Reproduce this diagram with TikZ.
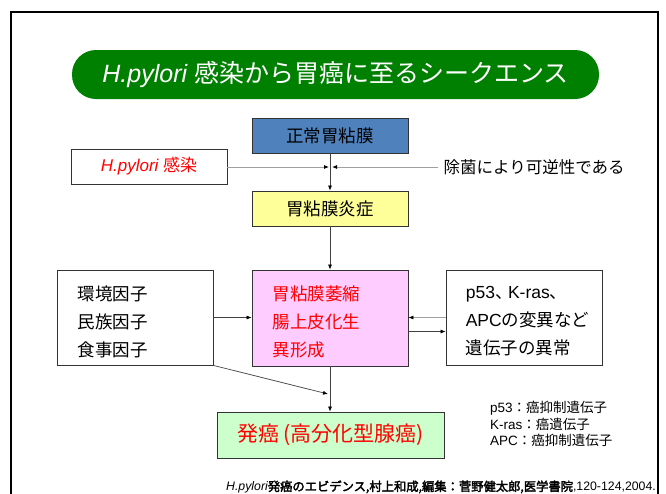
\documentclass[tikz,border=0pt]{standalone}
\usepackage{fontspec}
\setmainfont{Liberation Sans}
\newfontfamily\cjk[AutoFakeBold=2.5]{Noto Sans CJK JP}
\usetikzlibrary{arrows.meta,shadows}
\definecolor{pillgreen}{RGB}{0,128,0}
\definecolor{normblue}{RGB}{79,129,189}
\definecolor{inflyellow}{RGB}{255,255,153}
\definecolor{atropink}{RGB}{255,204,255}
\definecolor{cancergreen}{RGB}{204,255,204}
\definecolor{boxedge}{RGB}{51,51,51}
\definecolor{lightline}{RGB}{160,160,160}
\definecolor{darkline}{RGB}{64,64,64}
\newcommand{\tten}{\makebox[13pt][l]{\cjk 、}}
\begin{document}
\begin{tikzpicture}[x=1pt,y=-1pt,
  stagebox/.style={draw=boxedge,line width=0.8pt,minimum width=156pt,minimum height=35pt,inner sep=0pt,
    drop shadow={shadow xshift=1.2pt,shadow yshift=-1.2pt,fill=black!30}},
  boxtext/.style={font=\cjk\fontsize{17.5}{20}\selectfont},
  listtext/.style={anchor=west,align=left,inner sep=0pt},
  darkarrow/.style={draw=darkline,line width=0.7pt,-{Latex[length=5pt,width=4pt,color=black]}},
  lightarrow/.style={draw=lightline,line width=0.8pt,-{Latex[length=5pt,width=4pt,color=black]}}
]
\useasboundingbox (0,0) rectangle (666,493);
\fill[white] (0,0) rectangle (666,493);
\draw[line width=1.5pt] (11,496) -- (11,12) -- (658,12) -- (658,496);

\node[fill=pillgreen,rounded corners=24pt,minimum width=527pt,minimum height=49pt,text=white,
  font=\fontsize{25}{30}\selectfont] (title) at (335.5,74.5)
  {\itshape H.pylori\upshape{} {\cjk 感染から胃癌に至るシークエンス}};

\node[stagebox,fill=normblue,boxtext] (normal) at (330,135.5) {正常胃粘膜};
\node[stagebox,fill=white,text=red,font=\fontsize{17}{20}\selectfont] (hp) at (149,166.5)
  {\itshape H.pylori\upshape{} {\cjk 感染}};
\node[stagebox,fill=inflyellow,boxtext] (infl) at (330,208.5) {胃粘膜炎症};
\node[anchor=west,inner sep=5.5pt,font=\cjk\fontsize{16.5}{20}\selectfont] (erad) at (438,167) {除菌により可逆性である};

\coordinate (mL) at (329,167);
\coordinate (mR) at (332,167);
\draw[lightarrow] (hp.east |- mL) -- (mL);
\draw[lightarrow] (erad.west) -- (mR);
\draw[darkarrow] (normal.south) -- (infl.north);

\node[stagebox,fill=white,minimum height=95pt] (env) at (135,317.5) {};
\node[listtext,font=\cjk\fontsize{17.5}{28}\selectfont] (envt) at ([xshift=21pt,yshift=-4pt]env.west)
  {環境因子\\民族因子\\食事因子};
\node[stagebox,fill=atropink,minimum height=96pt] (atro) at (330,318) {};
\node[listtext,text=red,font=\cjk\fontsize{17.5}{28}\selectfont] (atrot) at ([xshift=21pt,yshift=-4pt]atro.west)
  {胃粘膜萎縮\\腸上皮化生\\異形成};
\node[stagebox,fill=white,minimum height=95pt] (gene) at (524,317.5) {};
\node[listtext,font=\fontsize{17.5}{28}\selectfont] (genet) at ([xshift=20pt,yshift=-4pt]gene.west)
  {p53\tten K-ras\tten\\APC{\cjk の変異など}\\{\cjk 遺伝子の異常}};

\draw[darkarrow] (infl.south) -- (atro.north);
\draw[darkarrow] (env.east) -- (env.east -| atro.west);
\draw[lightarrow] (gene.west) -- (gene.west -| atro.east);
\coordinate (pr) at ([yshift=-13.5pt]atro.east);
\draw[darkarrow] (pr) -- (pr -| gene.west);

\node[stagebox,fill=cancergreen,minimum width=227pt,minimum height=46pt,text=red,
  font=\cjk\fontsize{21}{24}\selectfont] (cancer) at (330.5,435) {発癌\,(高分化型腺癌)};
\coordinate (dg) at (328,394);
\draw[darkarrow] (env.south east) -- (dg);
\draw[darkarrow] (atro.south) -- (atro.south |- cancer.north);

\node[anchor=north west,align=left,inner sep=0pt,font=\fontsize{13.5}{16.5}\selectfont] (notes) at (490,401)
  {p53{\cjk ：癌抑制遺伝子}\\K-ras{\cjk ：癌遺伝子}\\APC{\cjk ：癌抑制遺伝子}};

\node[anchor=east,inner sep=0pt,font=\fontsize{12.3}{14}\selectfont] (cite) at (656,487)
  {\itshape H.pylori\upshape{\cjk\bfseries 発癌のエビデンス,村上和成,編集：菅野健太郎,医学書院},120-124,2004.};
\end{tikzpicture}
\end{document}
